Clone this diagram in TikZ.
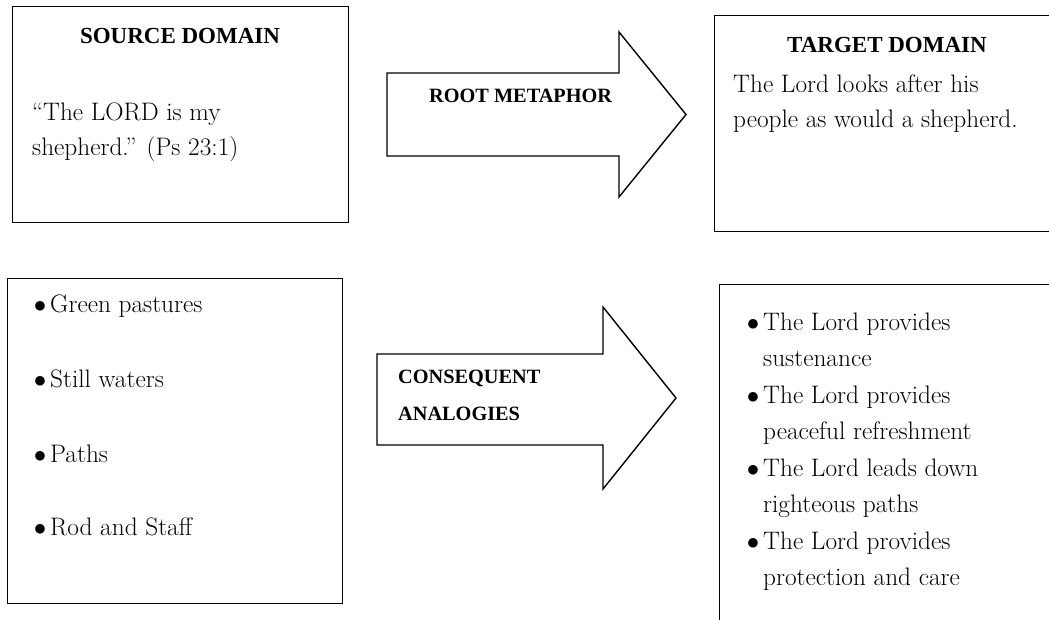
\documentclass[tikz,border=0pt]{standalone}
\usepackage{fontspec}
\newfontfamily\headfont{Liberation Serif}
\begin{document}
\begin{tikzpicture}[x=1pt,y=-1pt,
  box/.style={draw, line width=1.4pt, rectangle, inner sep=0, anchor=north west},
  shapeline/.style={draw, line width=1.4pt, line join=miter},
  body/.style={font=\fontsize{25.3}{35}\selectfont, inner sep=0, anchor=base west},
  bul/.style={font=\fontsize{23}{35}\selectfont, inner sep=0, anchor=base},
  head/.style={font=\headfont\bfseries\fontsize{23}{28}\selectfont, inner sep=0, anchor=base},
  arrowtxt/.style={font=\headfont\bfseries\fontsize{20.3}{37}\selectfont, inner sep=0, anchor=base west}]
\useasboundingbox (0,0) rectangle (1049,619);
\clip (0,0) rectangle (1049,619);
% boxes
\node[box, minimum width=336pt, minimum height=216pt] (src) at (12,6) {};
\node[box, minimum width=400pt, minimum height=216pt] (tgt) at (714,15) {};
\node[box, minimum width=335pt, minimum height=325pt] (srcl) at (7,278) {};
\node[box, minimum width=400pt, minimum height=400pt] (tgtl) at (719,284) {};
% arrows
\draw[shapeline] (387,73) -- (619,73) -- (619,32) -- (686,114.5) -- (619,197) -- (619,156) -- (387,156) -- cycle;
\draw[shapeline] (377,354) -- (603,354) -- (603,307) -- (676,398) -- (603,489) -- (603,445) -- (377,445) -- cycle;
% texts
\node[head] (srch) at (180,43) {SOURCE DOMAIN};
\node[body] (src1) at (32,120) {“The LORD is my};
\node[body] (src2) at (32,155) {shepherd.” (Ps 23:1)};
\node[head] (tgth) at (887,52) {TARGET DOMAIN};
\node[body] (tgt1) at (733,92) {The Lord looks after his};
\node[body] (tgt2) at (733,127) {people as would a shepherd.};
\node[arrowtxt] (rm) at (429,102) {ROOT METAPHOR};
\node[arrowtxt] (ca1) at (398,383) {CONSEQUENT};
\node[arrowtxt] (ca2) at (398,420) {ANALOGIES};
% left list
\node[bul] (b1) at (40,312) {$\bullet$};
\node[body] (l1) at (50,312) {Green pastures};
\node[bul] (b2) at (40,387) {$\bullet$};
\node[body] (l2) at (50,387) {Still waters};
\node[bul] (b3) at (40,462) {$\bullet$};
\node[body] (l3) at (50,462) {Paths};
\node[bul] (b4) at (40,535) {$\bullet$};
\node[body] (l4) at (50,535) {Rod and Staff};
% right list
\node[bul] (r1b) at (753,330) {$\bullet$};
\node[body] (r1a) at (763,330) {The Lord provides};
\node[body] (r1c) at (763,366) {sustenance};
\node[bul] (r2b) at (753,403) {$\bullet$};
\node[body] (r2a) at (763,403) {The Lord provides};
\node[body] (r2c) at (763,439) {peaceful refreshment};
\node[bul] (r3b) at (753,476) {$\bullet$};
\node[body] (r3a) at (763,476) {The Lord leads down};
\node[body] (r3c) at (763,512) {righteous paths};
\node[bul] (r4b) at (753,549) {$\bullet$};
\node[body] (r4a) at (763,549) {The Lord provides};
\node[body] (r4c) at (763,585) {protection and care};
\end{tikzpicture}
\end{document}
